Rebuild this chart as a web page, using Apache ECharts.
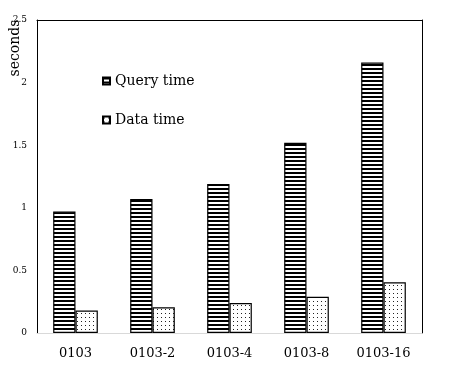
<!DOCTYPE html>
<html>
<head>
<meta charset="utf-8">
<script src="https://cdn.jsdelivr.net/npm/echarts@6/dist/echarts.min.js"></script>
<style>
  html, body { margin: 0; padding: 0; background: #fff; }
  #chart { width: 458px; height: 375px; }
</style>
</head>
<body>
<div id="chart"></div>
<script>
// data
var categories = ['0103', '0103-2', '0103-4', '0103-8', '0103-16'];
var queryTime = [0.97, 1.07, 1.19, 1.52, 2.16];
var dataTime = [0.18, 0.205, 0.24, 0.29, 0.405];
var yTicks = [0, 0.5, 1, 1.5, 2, 2.5];

var FONT = '"DejaVu Serif", "Liberation Serif", serif';

// horizontal stripes
function stripes() {
  var c = document.createElement('canvas');
  c.width = 4; c.height = 4;
  var g = c.getContext('2d');
  g.fillStyle = '#fff';
  g.fillRect(0, 0, 4, 4);
  g.fillStyle = '#000';
  g.fillRect(0, 0, 4, 2);
  return c;
}
// sparse dots
function dots() {
  var c = document.createElement('canvas');
  c.width = 4; c.height = 4;
  var g = c.getContext('2d');
  g.fillStyle = '#fff';
  g.fillRect(0, 0, 4, 4);
  g.fillStyle = '#222';
  g.fillRect(1, 1, 1, 1);
  return c;
}

var chart = echarts.init(document.getElementById('chart'));
var option = {
  animation: false,
  backgroundColor: '#fff',
  grid: { left: 37, right: 36, top: 20, bottom: 42 },
  legend: {
    orient: 'vertical',
    left: 102,
    top: 74,
    padding: 0,
    icon: 'rect',
    itemWidth: 7,
    itemHeight: 7,
    itemGap: 25,
    textStyle: { fontFamily: FONT, fontSize: 14, color: '#000' },
    data: ['Query time', 'Data time']
  },
  graphic: [{
    type: 'text',
    x: 15,
    y: 48,
    rotation: Math.PI / 2,
    style: {
      text: 'seconds',
      font: '14px ' + FONT,
      fill: '#000',
      textAlign: 'center',
      textVerticalAlign: 'middle'
    }
  }],
  xAxis: [{
    type: 'category',
    data: categories,
    axisLine: { lineStyle: { color: '#d9d9d9', width: 1 } },
    axisTick: { show: false },
    axisLabel: { fontFamily: FONT, fontSize: 13, color: '#000', margin: 14 }
  }, {
    type: 'category',
    position: 'top',
    data: categories,
    axisLine: { onZero: false, lineStyle: { color: '#000', width: 1 } },
    axisTick: { show: false },
    axisLabel: { show: false }
  }],
  yAxis: [{
    type: 'value',
    min: 0,
    max: 2.5,
    interval: 0.5,
    axisLine: { show: true, onZero: false, lineStyle: { color: '#000', width: 1 } },
    axisTick: { show: false },
    splitLine: { show: false },
    axisLabel: {
      fontFamily: FONT, fontSize: 9, color: '#000', margin: 10,
      formatter: function (v) { return yTicks.indexOf(v) >= 0 ? String(v) : ''; }
    }
  }, {
    type: 'value',
    position: 'right',
    min: 0,
    max: 2.5,
    interval: 0.5,
    axisLine: { show: true, onZero: false, lineStyle: { color: '#000', width: 1 } },
    axisTick: { show: false },
    splitLine: { show: false },
    axisLabel: { show: false }
  }],
  series: [{
    name: 'Query time',
    type: 'bar',
    data: queryTime,
    barGap: '0%',
    barCategoryGap: '42%',
    itemStyle: {
      color: { image: stripes(), repeat: 'repeat' },
      borderColor: '#000',
      borderWidth: 1.2
    }
  }, {
    name: 'Data time',
    type: 'bar',
    data: dataTime,
    itemStyle: {
      color: { image: dots(), repeat: 'repeat' },
      borderColor: '#000',
      borderWidth: 1.2
    }
  }]
};
chart.setOption(option);
</script>
</body>
</html>
